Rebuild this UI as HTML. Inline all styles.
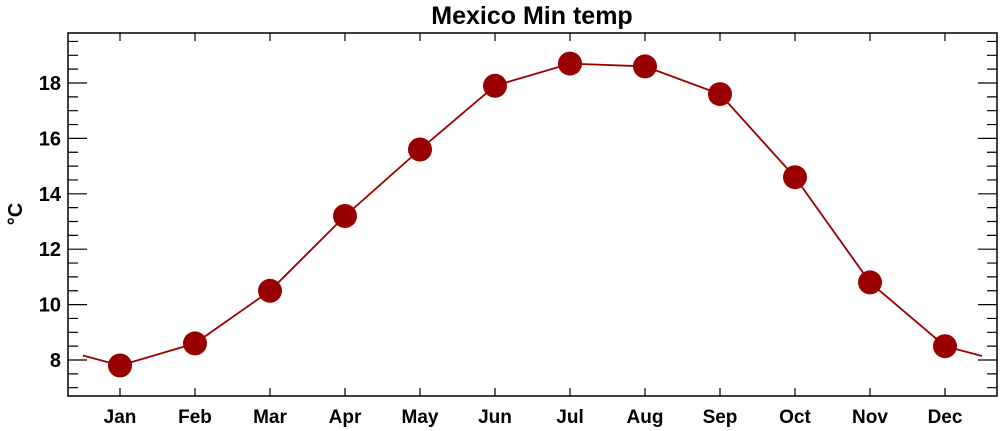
<!DOCTYPE html>
<html><head><meta charset="utf-8"><style>html,body{margin:0;padding:0;background:#fff}svg{display:block}</style></head><body>
<svg width="1000" height="431" xmlns="http://www.w3.org/2000/svg" font-family="Liberation Sans, sans-serif" font-weight="bold">
<text x="532" y="24" text-anchor="middle" font-size="25">Mexico Min temp</text>
<rect x="68" y="33" width="929" height="363" fill="none" stroke="#000" stroke-width="1.5"/>
<g stroke="#000" stroke-width="1.2">
<path d="M68 387.7h10M68 373.85h10M68 346.15h10M68 332.3h10M68 318.45h10M68 290.75h10M68 276.9h10M68 263.05h10M68 235.35h10M68 221.5h10M68 207.65h10M68 179.95h10M68 166.1h10M68 152.25h10M68 124.55h10M68 110.7h10M68 96.85h10M68 69.15h10M68 55.3h10M68 41.45h10"/>
<path d="M68 360h19M68 304.6h19M68 249.2h19M68 193.8h19M68 138.4h19M68 83h19"/>
<path d="M997 387.7h-10M997 373.85h-10M997 346.15h-10M997 332.3h-10M997 318.45h-10M997 290.75h-10M997 276.9h-10M997 263.05h-10M997 235.35h-10M997 221.5h-10M997 207.65h-10M997 179.95h-10M997 166.1h-10M997 152.25h-10M997 124.55h-10M997 110.7h-10M997 96.85h-10M997 69.15h-10M997 55.3h-10M997 41.45h-10"/>
<path d="M997 360h-19M997 304.6h-19M997 249.2h-19M997 193.8h-19M997 138.4h-19M997 83h-19"/>
<path d="M120 396v-8M195 396v-8M270 396v-8M345 396v-8M420 396v-8M495 396v-8M570 396v-8M645 396v-8M720 396v-8M795 396v-8M870 396v-8M945 396v-8"/>
<path d="M120 33v8M195 33v8M270 33v8M345 33v8M420 33v8M495 33v8M570 33v8M645 33v8M720 33v8M795 33v8M870 33v8M945 33v8"/>
</g>
<g font-size="20" text-anchor="end">
<text x="61" y="367">8</text><text x="61" y="311.6">10</text><text x="61" y="256.2">12</text><text x="61" y="200.8">14</text><text x="61" y="145.4">16</text><text x="61" y="90">18</text>
</g>
<text transform="translate(22,214) rotate(-90)" text-anchor="middle" font-size="20">°C</text>
<g font-size="19" text-anchor="middle">
<text x="120" y="423">Jan</text><text x="195" y="423">Feb</text><text x="270" y="423">Mar</text><text x="345" y="423">Apr</text><text x="420" y="423">May</text><text x="495" y="423">Jun</text><text x="570" y="423">Jul</text><text x="645" y="423">Aug</text><text x="720" y="423">Sep</text><text x="795" y="423">Oct</text><text x="870" y="423">Nov</text><text x="945" y="423">Dec</text>
</g>
<polyline fill="none" stroke="#990000" stroke-width="1.8" points="83,355.5 120,365.5 195,343.4 270,290.8 345,216 420,149.5 495,85.8 570,63.6 645,66.4 720,94.1 795,177.2 870,282.4 945,346.2 982,356"/>
<g fill="#990000">
<circle cx="120" cy="365.5" r="12"/><circle cx="195" cy="343.4" r="12"/><circle cx="270" cy="290.8" r="12"/><circle cx="345" cy="216" r="12"/><circle cx="420" cy="149.5" r="12"/><circle cx="495" cy="85.8" r="12"/><circle cx="570" cy="63.6" r="12"/><circle cx="645" cy="66.4" r="12"/><circle cx="720" cy="94.1" r="12"/><circle cx="795" cy="177.2" r="12"/><circle cx="870" cy="282.4" r="12"/><circle cx="945" cy="346.2" r="12"/>
</g>
</svg>
</body></html>
